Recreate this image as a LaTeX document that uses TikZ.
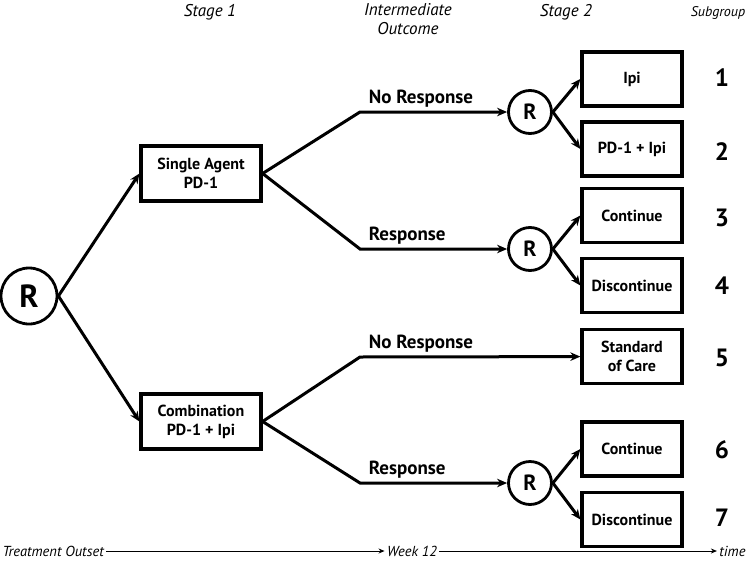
\documentclass[tikz,border=0pt]{standalone}
\usepackage{fontspec}
\setmainfont{PT Sans}
\usepackage{tikz}
\usetikzlibrary{arrows.meta}

\begin{document}
\begin{tikzpicture}[x=1pt,y=-1pt,line width=3pt,
	>={Stealth[length=10pt,width=8.5pt]},
	trtbox/.style={draw,line width=3.2pt,inner sep=0pt,minimum width=120pt,minimum height=55pt,align=center,font=\fontsize{16}{19}\selectfont\bfseries},
	armbox/.style={trtbox,minimum width=100pt,minimum height=54pt},
	randnode/.style={draw,circle,line width=2.8pt,inner sep=0pt,minimum size=43pt,font=\fontsize{22}{22}\selectfont\bfseries},
	outlbl/.style={anchor=base west,font=\fontsize{19}{19}\selectfont\bfseries},
	grpnum/.style={font=\fontsize{25}{25}\selectfont\bfseries},
	hdr/.style={align=center,font=\fontsize{17}{19}\selectfont\itshape},
	timelbl/.style={font=\fontsize{14.5}{14.5}\selectfont\itshape,inner sep=1pt}]
	\useasboundingbox (0,0) rectangle (750,560);
	% stage 1
	\node[randnode,minimum size=56pt,font=\fontsize{32}{32}\selectfont\bfseries] (R0) at (29,296) {R};
	\node[trtbox] (sa) at (201,173.5) {Single Agent\\PD-1};
	\node[trtbox] (co) at (201,421.5) {Combination\\PD-1 + Ipi};
	\draw[->] (R0.east) -- (sa.west);
	\draw[->] (R0.east) -- (co.west);
	% intermediate outcome
	\coordinate (c1) at (360,112);
	\coordinate (c2) at (360,249);
	\coordinate (c3) at (360,357);
	\coordinate (c4) at (360,483);
	\node[randnode] (r1) at (530,112) {R};
	\node[randnode] (r2) at (530,249) {R};
	\node[randnode] (r3) at (530,483) {R};
	% stage 2
	\node[armbox] (b1) at (632,79) {Ipi};
	\node[armbox] (b2) at (632,149) {PD-1 + Ipi};
	\node[armbox] (b3) at (632,215.5) {Continue};
	\node[armbox] (b4) at (632,285.5) {Discontinue};
	\node[armbox] (b5) at (632,356.5) {Standard\\of Care};
	\node[armbox] (b6) at (632,449) {Continue};
	\node[armbox] (b7) at (632,519.5) {Discontinue};
	\draw[->] (sa.east) -- (c1) -- (r1);
	\draw[->] (sa.east) -- (c2) -- (r2);
	\draw[->] (co.east) -- (c3) -- (b5);
	\draw[->] (co.east) -- (c4) -- (r3);
	\node[outlbl] (nr1) at ([xshift=4pt,yshift=9pt]c1) {No Response};
	\node[outlbl] (rs1) at ([xshift=4pt,yshift=9pt]c2) {Response};
	\node[outlbl] (nr2) at ([xshift=4pt,yshift=9pt]c3) {No Response};
	\node[outlbl] (rs2) at ([xshift=4pt,yshift=9pt]c4) {Response};
	\draw[->] (r1.east) -- (b1.west);
	\draw[->] (r1.east) -- (b2.west);
	\draw[->] (r2.east) -- (b3.west);
	\draw[->] (r2.east) -- (b4.west);
	\draw[->] (r3.east) -- (b6.west);
	\draw[->] (r3.east) -- (b7.west);
	% subgroups
	\foreach \n/\y in {1/78,2/152,3/218,4/286,5/358,6/450,7/518}
		\node[grpnum] (g\n) at (722,\y) {\n};
	% headers
	\node[hdr] (h1) at (210,12) {Stage 1};
	\node[hdr] (h2) at (408,19) {Intermediate\\Outcome};
	\node[hdr] (h3) at (566,12) {Stage 2};
	\node[hdr,font=\fontsize{14}{14}\selectfont\itshape] (h4) at (718,13) {Subgroup};
	% time axis
	\node[timelbl,anchor=west] (t0) at (0,551) {Treatment Outset};
	\node[timelbl] (t12) at (412,551) {Week 12};
	\node[timelbl,anchor=east] (tend) at (748,551) {time};
	\draw[line width=1pt,-{Stealth[length=6pt,width=5pt]}] (t0) -- (t12);
	\draw[line width=1pt,-{Stealth[length=6pt,width=5pt]}] (t12) -- (tend);
\end{tikzpicture}
\end{document}
